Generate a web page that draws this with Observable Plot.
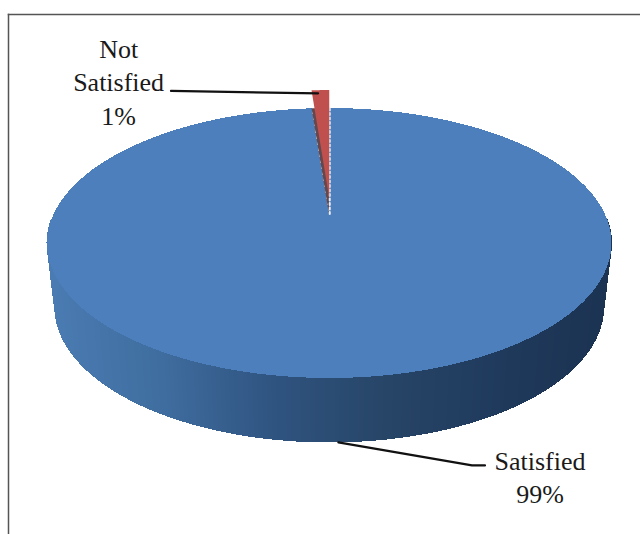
<!DOCTYPE html>
<html>
<head>
<meta charset="utf-8">
<script src="https://cdn.jsdelivr.net/npm/d3@7"></script>
<script src="https://cdn.jsdelivr.net/npm/@observablehq/plot@0.6"></script>
<style>
  html, body { margin: 0; padding: 0; background: #fff; }
  svg { display: block; }
</style>
</head>
<body>
<div id="chart"></div>
<script>
// Survey result: share of respondents by satisfaction
const categories = ["Satisfied", "Not Satisfied"];
const shares = [99, 1];
const sliceColors = ["#4c7fbc", "#c0504d"];

// Disc shading along the front wall, left to right
const wallStops = [-1, -0.6, -0.2, 0.2, 0.6, 1];
const wallShades = ["#4a7bb2", "#3f6d9f", "#2f5480", "#274567", "#1f3a5c", "#1c3352"];

// Disc proportions in unit-disc coordinates
const wallDrop = 0.474;      // how far the lower rim sits below the top rim
const rimTaper = 0.972;      // foreshortening of the lower rim
const hubY = -0.2;           // centre of the fan on the top face
const explodeUp = 0.133;     // lift of the small slice

// Callout label anchors and leader paths, keyed by category
const labelX = [0.745, -0.748];
const labelY = [1.72, -1.207];
const leaderX = [[0.504, 0.55], [-0.5625]];
const leaderY = [[1.644, 1.644], [-1.13]];

const rim = (a) => ({x: Math.sin(a), y: -Math.cos(a)});
const pie = d3.pie().sort(null).startAngle(0).endAngle(2 * Math.PI)(shares);

// A slice is a fan: rim points joined to the hub
const fan = (s, lift = 0) =>
  d3.range(0, 121).map((i) => {
    const p = rim(s.startAngle + (s.endAngle - s.startAngle) * i / 120);
    return {x1: p.x, y1: p.y - lift, x2: 0, y2: hubY - lift};
  });

// The front wall is a run of narrow quads between the two rims
const wall = d3.range(80, 280).flatMap((deg) =>
  [deg, deg + 1.2].map((d) => {
    const p = rim(d * Math.PI / 180);
    return {
      q: deg,
      shade: Math.sin((deg + 0.5) * Math.PI / 180),
      x1: p.x, y1: p.y,
      x2: p.x * rimTaper, y2: p.y + wallDrop
    };
  })
);

const bigMid = (pie[0].startAngle + pie[0].endAngle) / 2;
const smallMid = (pie[1].startAngle + pie[1].endAngle) / 2;
const bigStart = rim(bigMid), smallStart = rim(smallMid);
const leaders = [
  ...[{x: bigStart.x * rimTaper, y: bigStart.y + wallDrop},
      ...leaderX[0].map((x, i) => ({x, y: leaderY[0][i]}))].map((d) => ({...d, k: categories[0]})),
  ...[{x: smallStart.x - 0.01, y: smallStart.y - explodeUp + 0.02},
      ...leaderX[1].map((x, i) => ({x, y: leaderY[1][i]}))].map((d) => ({...d, k: categories[1]}))
];

const labels = categories.map((c, i) => ({
  text: (i === 1 ? "Not\nSatisfied" : c) + "\n" + shares[i] + "%",
  x: labelX[i],
  y: labelY[i]
}));

const seam = [{x: 0, y: -1}, {x: 0, y: hubY}];

const chart = Plot.plot({
  width: 640,
  height: 534,
  marginLeft: 8,
  marginTop: 14,
  marginRight: 0,
  marginBottom: 0,
  x: {domain: [-1, 1], range: [47, 611.5], axis: null},
  y: {domain: [-1, 1], range: [108, 378], axis: null},
  color: {type: "linear", domain: wallStops, range: wallShades, interpolate: "rgb"},
  marks: [
    Plot.frame({anchor: "top", stroke: "#555", strokeWidth: 1.5}),
    Plot.frame({anchor: "left", stroke: "#555", strokeWidth: 1.5}),
    Plot.area(wall, {x1: "x1", y1: "y1", x2: "x2", y2: "y2", z: "q", fill: "shade", stroke: "shade", strokeWidth: 1, shapeRendering: "crispEdges"}),
    Plot.area(fan(pie[0]), {x1: "x1", y1: "y1", x2: "x2", y2: "y2", fill: sliceColors[0], shapeRendering: "crispEdges"}),
    Plot.area(fan(pie[1]), {x1: "x1", y1: "y1", x2: "x2", y2: "y2", fill: "#64484f"}),
    Plot.line(seam, {x: "x", y: "y", stroke: "#e6edf6", strokeWidth: 2, strokeDasharray: "2 2.5"}),
    Plot.area(fan(pie[1], explodeUp), {x1: "x1", y1: "y1", x2: "x2", y2: "y2", fill: sliceColors[1]}),
    Plot.line(leaders, {x: "x", y: "y", z: "k", stroke: "#111", strokeWidth: 2.2}),
    Plot.text(labels, {
      x: "x", y: "y", text: "text",
      fontFamily: "Liberation Serif", fontSize: 26, lineHeight: 1.3,
      fill: "#1a1a1a", textAnchor: "middle"
    })
  ]
});
document.getElementById("chart").append(chart);
</script>
</body>
</html>
